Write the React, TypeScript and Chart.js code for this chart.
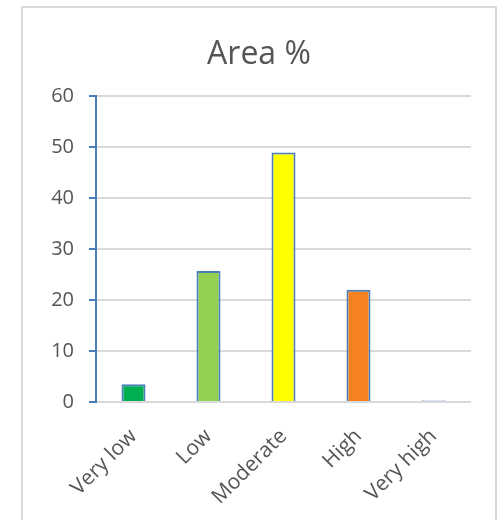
import React, { useEffect, useRef } from "react";
import { Chart, registerables } from "chart.js";

Chart.register(...registerables);

// Share of the area falling in each class
const classes = ["Very low", "Low", "Moderate", "High", "Very high"];
const areaPercent = [3.5, 25.7, 48.9, 22.0, 0.4];
const barColors = ["#00B050", "#92D050", "#FFFF00", "#F58220", "#D6E1F2"];
const barBorders = ["#4A7EBB", "#4A7EBB", "#4A7EBB", "#4A7EBB", "#AFC4E6"];
const chartTitle = "Area %";

const FONT = '"Open Sans", "DejaVu Sans", sans-serif';
const TEXT = "#555555";

// Frame rectangle around the chart
const FRAME_LEFT = 22;
const FRAME_RIGHT = 496;

const titlePlugin = {
  id: "frameTitle",
  afterDraw(chart: Chart) {
    const { ctx } = chart;
    ctx.save();
    ctx.font = `32px ${FONT}`;
    ctx.fillStyle = TEXT;
    ctx.textAlign = "center";
    ctx.textBaseline = "alphabetic";
    ctx.fillText(chartTitle, (FRAME_LEFT + FRAME_RIGHT) / 2, 64);
    ctx.restore();
  },
};

export default function App() {
  const canvasRef = useRef<HTMLCanvasElement | null>(null);

  useEffect(() => {
    if (!canvasRef.current) return;
    const chart = new Chart(canvasRef.current, {
      type: "bar",
      data: {
        labels: classes,
        datasets: [
          {
            data: areaPercent,
            backgroundColor: barColors,
            borderColor: barBorders,
            borderWidth: 2,
            barPercentage: 1,
            categoryPercentage: 0.32,
          },
        ],
      },
      options: {
        animation: false,
        responsive: false,
        maintainAspectRatio: false,
        layout: { padding: { left: FRAME_LEFT, right: 26, top: 96, bottom: 0 } },
        plugins: {
          legend: { display: false },
          title: { display: false },
          tooltip: { enabled: false },
        },
        scales: {
          x: {
            afterFit(scale: any) {
              scale.height = 118;
            },
            grid: { display: false, drawTicks: false },
            border: { display: false },
            ticks: {
              minRotation: 45,
              maxRotation: 45,
              padding: 22,
              color: TEXT,
              font: { family: FONT, size: 21 },
            },
          },
          y: {
            min: 0,
            max: 60,
            afterFit(scale: any) {
              scale.width = 74;
            },
            grid: {
              color: "#D9D9D9",
              lineWidth: 2,
              tickColor: "#4A7EBB",
              tickLength: 7,
              tickWidth: 2,
            },
            border: { color: "#4A7EBB", width: 2 },
            ticks: {
              stepSize: 10,
              padding: 15,
              color: TEXT,
              font: { family: FONT, size: 20 },
            },
          },
        },
      },
      plugins: [titlePlugin],
    });
    return () => chart.destroy();
  }, []);

  return (
    <div style={{ position: "fixed", left: 0, top: 0, width: 497, height: 520, overflow: "hidden", background: "#fff" }}>
      <div
        style={{
          position: "absolute",
          left: FRAME_LEFT - 1,
          top: 6,
          width: FRAME_RIGHT - FRAME_LEFT + 2,
          height: 600,
          border: "2px solid #D9D9D9",
          boxSizing: "border-box",
        }}
      />
      <canvas ref={canvasRef} width={497} height={520} style={{ position: "absolute", left: 0, top: 0 }} />
    </div>
  );
}
